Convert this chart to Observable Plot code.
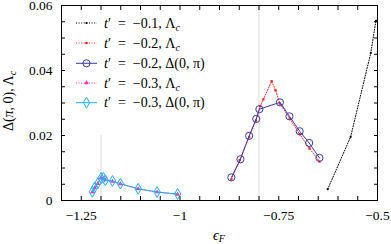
<!DOCTYPE html>
<html><head><meta charset="utf-8">
<script src="https://cdn.jsdelivr.net/npm/d3@7"></script>
<script src="https://cdn.jsdelivr.net/npm/@observablehq/plot@0.6"></script>
<style>body{margin:0;background:#fff} svg{display:block}</style>
</head><body><div id="chart"></div>
<script>
// t' = -0.1, Lambda_c
const epsT1Lam = [-0.626, -0.568, -0.517, -0.504];
const valT1Lam = [0.0035, 0.0196, 0.0454, 0.0553];
// t' = -0.2, Lambda_c
const epsT2Lam = [-0.87, -0.849, -0.825, -0.808, -0.797, -0.789, -0.768, -0.758, -0.747, -0.722, -0.697, -0.672, -0.647];
const valT2Lam = [0.0065, 0.0124, 0.0195, 0.0246, 0.0290, 0.0311, 0.0367, 0.0339, 0.0298, 0.0252, 0.0204, 0.0160, 0.0120];
// t' = -0.2, Delta(0,pi)
const epsT2Del = [-0.87, -0.847, -0.825, -0.807, -0.799, -0.747, -0.723, -0.697, -0.673, -0.647];
const valT2Del = [0.0071, 0.0127, 0.0199, 0.0251, 0.0281, 0.0302, 0.0259, 0.0213, 0.0177, 0.0131];
// t' = -0.3, Lambda_c
const epsT3Lam = [-1.222, -1.216, -1.208, -1.2, -1.194, -1.189, -1.171, -1.151, -1.106, -1.058, -1.006];
const valT3Lam = [0.0026, 0.0039, 0.0052, 0.0070, 0.0069, 0.0063, 0.0059, 0.0051, 0.0036, 0.0026, 0.0019];
// t' = -0.3, Delta(0,pi)
const epsT3Del = [-1.222, -1.216, -1.208, -1.2, -1.194, -1.189, -1.171, -1.151, -1.106, -1.058, -1.006];
const valT3Del = [0.0027, 0.0040, 0.0053, 0.0069, 0.0070, 0.0062, 0.0060, 0.0052, 0.0036, 0.0026, 0.0020];

const grayRuleEps = [-0.8, -1.2];
const grayRuleTop = [0.06, 0.02];

const xMajor = [-1.25, -1, -0.75, -0.5];
const xMajorLabels = ["−1.25", "−1", "−0.75", "−0.5"];
const yMajor = [0, 0.02, 0.04, 0.06];
const yMajorLabels = ["0", "0.02", "0.04", "0.06"];
const xMinor = d3.range(0, 17).map(i => -1.3 + i * 0.05);
const yMinor = d3.range(0, 13).map(i => i * 0.005);

const legendT = ["−0.1", "−0.2", "−0.2", "−0.3", "−0.3"];
const legendQ = ["Λ", "Λ", "Δ(0, π)", "Λ", "Δ(0, π)"];

const colBlack = "#000000", colRed = "#ff2020", colBlue = "#3a3aa6", colMag = "#ff22bb", colCyan = "#1eb0ff";
const dotted = "1,1.6";

const T = (xs, ys) => xs.map((x, i) => ({x, y: ys[i]}));
const d1 = T(epsT1Lam, valT1Lam), d2 = T(epsT2Lam, valT2Lam), d3b = T(epsT2Del, valT2Del),
      d4 = T(epsT3Lam, valT3Lam), d5 = T(epsT3Del, valT3Del);
const rules = T(grayRuleEps, grayRuleTop);

const noText = () => "";
const font = "'Liberation Serif', 'DejaVu Serif', serif";
const plot = Plot.plot({
  width: 391, height: 244,
  marginLeft: 61, marginRight: 14, marginTop: 5, marginBottom: 44,
  style: {fontFamily: font, fontSize: "13.5px", background: "#fff", color: "#000"},
  x: {domain: [-1.3, -0.5]},
  y: {domain: [0, 0.06]},
  marks: [
    Plot.ruleX(rules, {x: "x", y1: 0, y2: "y", stroke: "#d2d2d2", strokeWidth: 0.8}),
    Plot.line(d1, {x: "x", y: "y", stroke: colBlack, strokeWidth: 1, strokeDasharray: dotted}),
    Plot.dot(d1, {x: "x", y: "y", r: 1.1, fill: colBlack, stroke: null}),
    Plot.line(d2, {x: "x", y: "y", stroke: colRed, strokeWidth: 1, strokeDasharray: dotted}),
    Plot.dot(d2, {x: "x", y: "y", symbol: "square", r: 1.3, fill: colRed, stroke: null}),
    Plot.line(d3b, {x: "x", y: "y", stroke: colBlue, strokeWidth: 1}),
    Plot.dot(d3b, {x: "x", y: "y", symbol: "circle", r: 3.6, fill: "none", stroke: colBlue, strokeWidth: 1}),
    Plot.line(d4, {x: "x", y: "y", stroke: colMag, strokeWidth: 1, strokeDasharray: dotted}),
    Plot.dot(d4, {x: "x", y: "y", symbol: "triangle", r: 1.7, fill: colMag, stroke: null}),
    Plot.line(d5, {x: "x", y: "y", stroke: colCyan, strokeWidth: 1}),
    Plot.dot(d5, {x: "x", y: "y", symbol: "diamond", r: 3.3, fill: "none", stroke: colCyan, strokeWidth: 1}),
    Plot.axisX(xMinor, {anchor: "bottom", tickSize: 4, dy: -4, tickFormat: noText, label: null}),
    Plot.axisX(xMinor, {anchor: "top", tickSize: 4, dy: 4, tickFormat: noText, label: null}),
    Plot.axisY(yMinor, {anchor: "left", tickSize: 4, dx: 4, tickFormat: noText, label: null}),
    Plot.axisY(yMinor, {anchor: "right", tickSize: 4, dx: -4, tickFormat: noText, label: null}),
    Plot.axisX(xMajor, {anchor: "bottom", tickSize: 0, tickPadding: 10, tickFormat: d => xMajorLabels[xMajor.indexOf(d)], label: null}),
    Plot.axisY(yMajor, {anchor: "left", tickSize: 0, tickPadding: 9, tickFormat: d => yMajorLabels[yMajor.indexOf(d)], label: null}),
    Plot.frame({stroke: "#000", strokeWidth: 1})
  ]
});
document.getElementById("chart").appendChild(plot);

const svg = d3.select(plot);
// legend
const leg = svg.append("g").attr("font-family", font).attr("font-size", 14).attr("text-anchor", "start");
const styles = [
  {c: colBlack, dash: dotted, sym: d3.symbolCircle, size: Math.PI * 1.1 * 1.1, fill: true},
  {c: colRed, dash: dotted, sym: d3.symbolSquare, size: Math.PI * 1.3 * 1.3, fill: true},
  {c: colBlue, dash: null, sym: d3.symbolCircle, size: Math.PI * 3.6 * 3.6, fill: false},
  {c: colMag, dash: dotted, sym: d3.symbolTriangle, size: Math.PI * 1.7 * 1.7, fill: true},
  {c: colCyan, dash: null, sym: d3.symbolDiamond, size: Math.PI * 3.3 * 3.3, fill: false}
];
const rowY = [23, 43, 63.3, 83, 102.7];
styles.forEach((s, i) => {
  const y = rowY[i];
  leg.append("line").attr("x1", 76).attr("x2", 97).attr("y1", y).attr("y2", y)
    .attr("stroke", s.c).attr("stroke-width", 1).attr("stroke-dasharray", s.dash);
  leg.append("path").attr("transform", `translate(86.5,${y})`)
    .attr("d", d3.symbol(s.sym, s.size)())
    .attr("fill", s.fill ? s.c : "none").attr("stroke", s.fill ? "none" : s.c).attr("stroke-width", 1);
  const t = leg.append("text").attr("x", 104).attr("y", y + 4.5);
  t.append("tspan").attr("font-style", "italic").text("t");
  t.append("tspan").text("′\u2002=\u2002" + legendT[i] + ", " + legendQ[i]);
  if (legendQ[i] === "Λ") {
    t.append("tspan").attr("font-style", "italic").attr("font-size", 10).attr("dy", 3).text("c");
  }
});
// y title
const yt = svg.append("text").attr("font-family", font).attr("font-size", 14)
  .attr("text-anchor", "middle").attr("transform", "translate(13,101) rotate(-90)");
yt.append("tspan").text("Δ(");
yt.append("tspan").attr("font-style", "italic").text("π");
yt.append("tspan").text(", 0), Λ");
yt.append("tspan").attr("font-style", "italic").attr("font-size", 10).attr("dy", 3).text("c");
// x title
const xt = svg.append("text").attr("font-family", font).attr("font-size", 14)
  .attr("text-anchor", "start").attr("x", 213).attr("y", 239.5);
xt.append("tspan").attr("font-style", "italic").text("ϵ");
xt.append("tspan").attr("font-style", "italic").attr("font-size", 10).attr("dy", 2.5).text("F");
</script>
</body></html>
